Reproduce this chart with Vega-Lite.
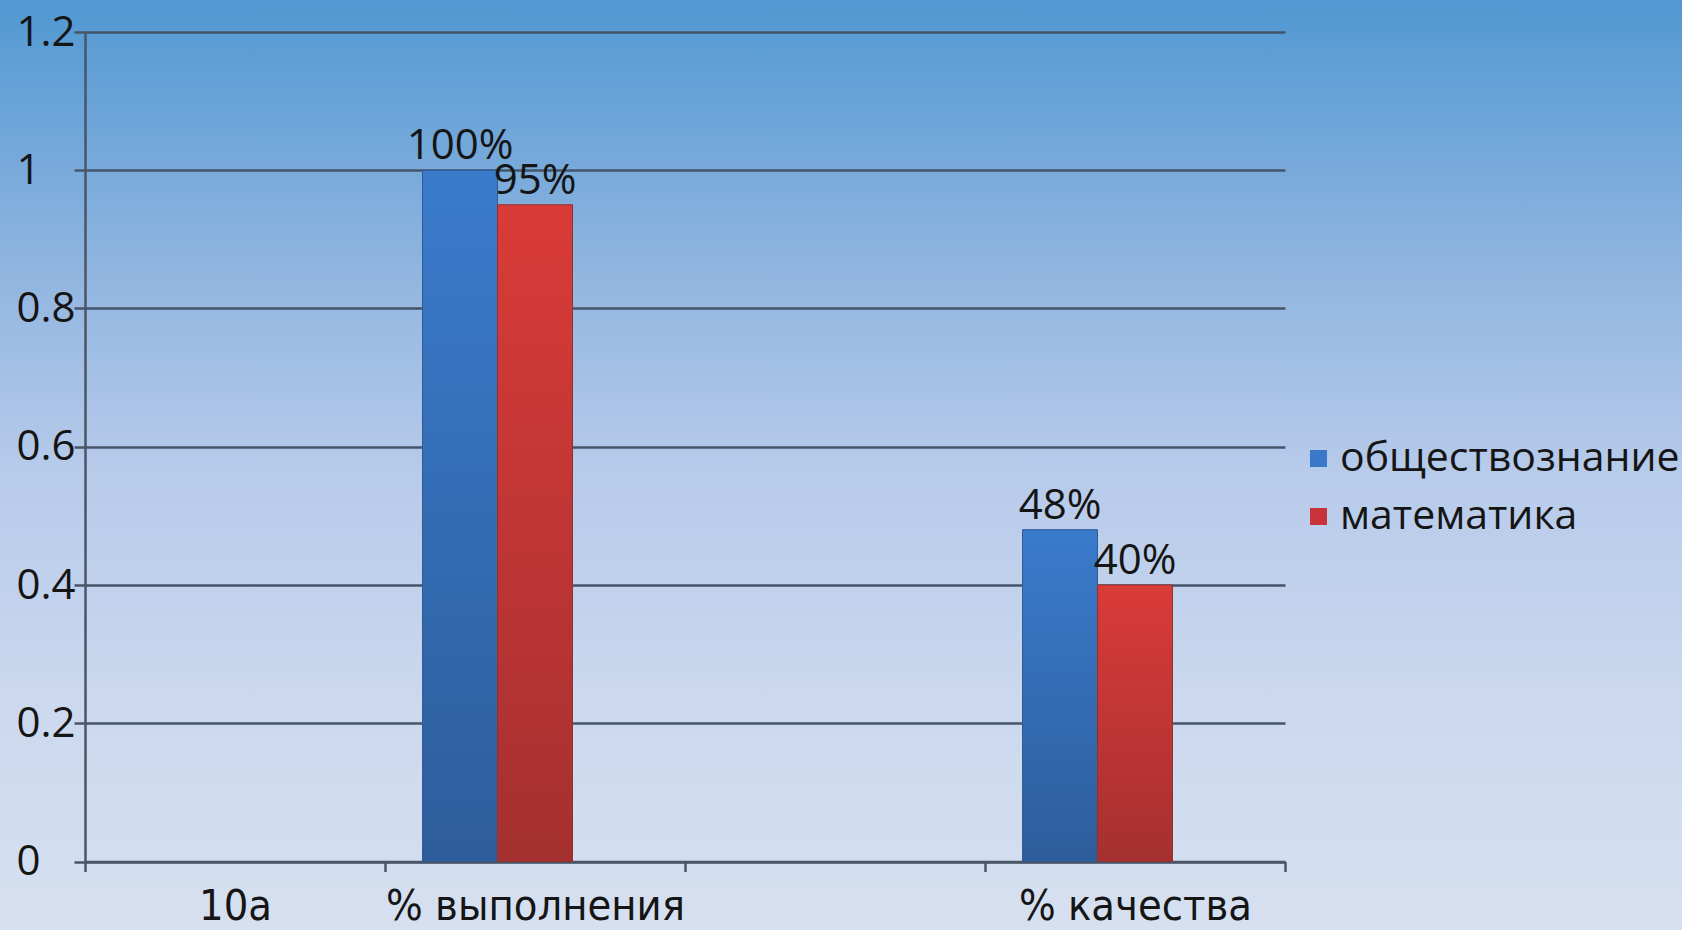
{
  "$schema": "https://vega.github.io/schema/vega-lite/v6.json",
  "width": 1682,
  "height": 930,
  "autosize": {"type": "none"},
  "padding": 0,
  "background": "#d5e0f0",
  "config": {
    "view": {
      "stroke": null,
      "fill": {
        "gradient": "linear",
        "x1": 0, "y1": 0, "x2": 0, "y2": 1,
        "stops": [
          {"offset": 0, "color": "#5198d2"},
          {"offset": 0.3, "color": "#92b6e0"},
          {"offset": 0.5, "color": "#b6caea"},
          {"offset": 0.75, "color": "#cbd8ee"},
          {"offset": 1, "color": "#d6e0f0"}
        ]
      }
    },
    "font": "Open Sans"
  },
  "data": {
    "values": [
      {"category": "% выполнения", "series": "обществознание", "value": 1.0, "label": "100%"},
      {"category": "% выполнения", "series": "математика", "value": 0.95, "label": "95%"},
      {"category": "% качества", "series": "обществознание", "value": 0.48, "label": "48%"},
      {"category": "% качества", "series": "математика", "value": 0.40, "label": "40%"}
    ]
  },
  "encoding": {
    "x": {
      "field": "category",
      "type": "nominal",
      "sort": null,
      "scale": {"type": "band", "domain": ["10а", "% выполнения", " ", "% качества"], "range": [85, 1285], "paddingInner": 0, "paddingOuter": 0},
      "axis": {
        "title": null,
        "orient": "bottom",
        "offset": -68.5,
        "tickBand": "extent",
        "labelAngle": 0,
        "domainColor": "#4a5566",
        "domainWidth": 2.5,
        "tickColor": "#4a5566",
        "tickWidth": 2.5,
        "tickSize": 10,
        "labelFont": "Liberation Sans Narrow, DejaVu Sans Condensed, Open Sans",
        "labelFontSize": 43,
        "labelLimit": 0,
        "labelColor": "#151515",
        "labelBaseline": "alphabetic",
        "labelPadding": 48,
        "grid": false
      }
    },
    "xOffset": {
      "field": "series",
      "type": "nominal",
      "scale": {"domain": ["обществознание", "математика", "—"], "paddingInner": 0, "paddingOuter": 0.5}
    },
    "y": {
      "field": "value",
      "type": "quantitative",
      "scale": {"domain": [0, 1.2], "range": [861.5, 32], "nice": false},
      "axis": {
        "title": null,
        "orient": "left",
        "offset": -85,
        "values": [0, 0.2, 0.4, 0.6, 0.8, 1, 1.2],
        "format": "~g",
        "labelFontSize": 42,
        "labelColor": "#151515",
        "labelAlign": "left",
        "labelPadding": 58,
        "tickSize": 11,
        "tickColor": "#4a5566",
        "tickWidth": 2.5,
        "domainColor": "#4a5566",
        "domainWidth": 2.5,
        "grid": true,
        "gridColor": "#45546a",
        "gridWidth": 2.5,
        "gridOpacity": 1
      }
    }
  },
  "layer": [
    {
      "mark": {"type": "bar"},
      "encoding": {
        "color": {
          "field": "series",
          "type": "nominal",
          "scale": {"domain": ["обществознание", "математика"], "range": ["#3a78c8", "#c8333a"]},
          "legend": {
            "title": null,
            "orient": "none",
            "legendX": 1298,
            "legendY": 438,
            "symbolType": "square",
            "symbolSize": 289,
            "symbolStrokeWidth": 0,
            "labelFont": "Open Sans",
            "labelFontSize": 41,
            "labelLimit": 0,
            "labelColor": "#151515",
            "labelOffset": 1,
            "rowPadding": 16,
            "padding": 0
          }
        }
      }
    },
    {
      "transform": [{"filter": "datum.series === 'обществознание'"}],
      "mark": {
        "type": "bar",
        "stroke": "#2f5a92",
        "strokeWidth": 1,
        "color": {
          "gradient": "linear", "x1": 0, "y1": 0, "x2": 0, "y2": 1,
          "stops": [{"offset": 0, "color": "#3a7bcc"}, {"offset": 1, "color": "#2e5d9c"}]
        }
      }
    },
    {
      "transform": [{"filter": "datum.series === 'математика'"}],
      "mark": {
        "type": "bar",
        "stroke": "#93302e",
        "strokeWidth": 1,
        "color": {
          "gradient": "linear", "x1": 0, "y1": 0, "x2": 0, "y2": 1,
          "stops": [{"offset": 0, "color": "#d93b38"}, {"offset": 1, "color": "#a53030"}]
        }
      }
    },
    {
      "mark": {"type": "text", "baseline": "alphabetic", "dy": -11, "fontSize": 42, "color": "#151515", "font": "Open Sans"},
      "encoding": {
        "text": {"field": "label", "type": "nominal"}
      }
    }
  ]
}
